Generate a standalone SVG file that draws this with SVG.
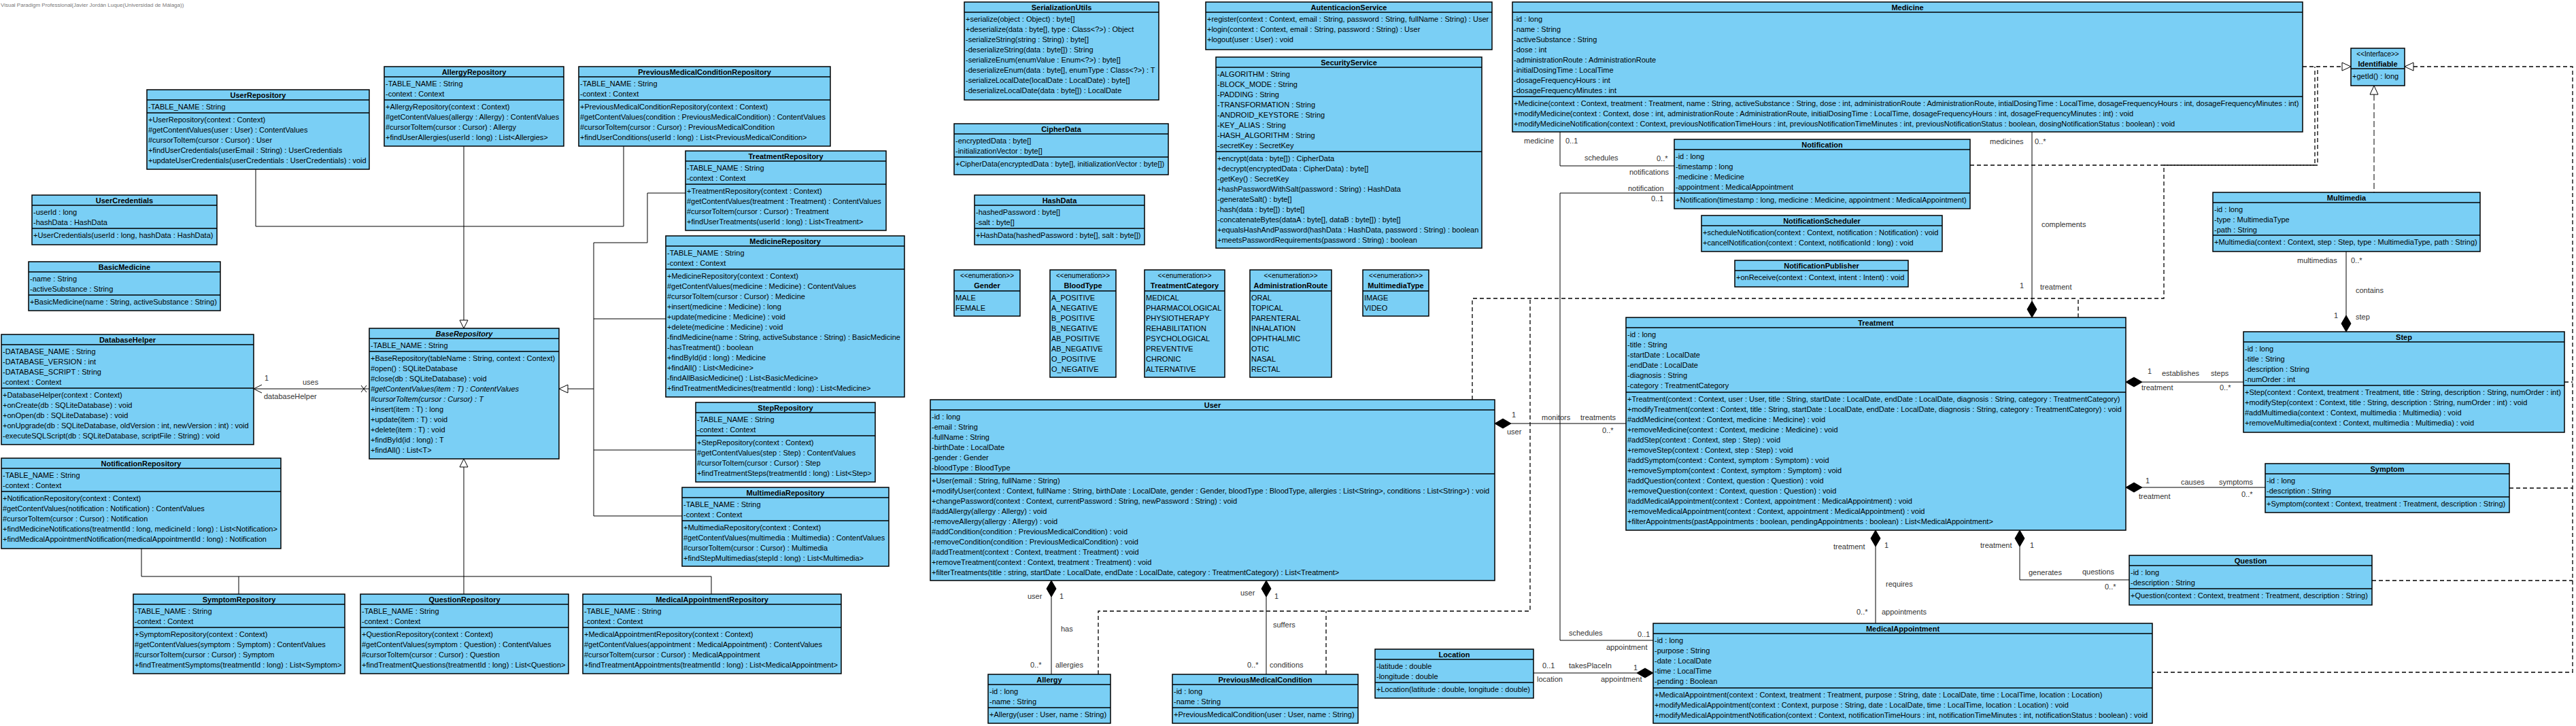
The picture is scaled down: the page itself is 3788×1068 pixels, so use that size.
<svg xmlns="http://www.w3.org/2000/svg" width="3788" height="1068" viewBox="0 0 3788 1068">
<style>
text{font-family:"Liberation Sans",Arial,sans-serif;font-size:11px;fill:#000}
.b{fill:#7acff5;stroke:#000;stroke-width:1.5}
.s{fill:none;stroke:#000;stroke-width:1.5}
.h{font-weight:bold;text-anchor:middle}
.st{text-anchor:middle;font-size:10px}
.i{font-style:italic}
.l{fill:#333}
.cn{fill:none;stroke:#000;stroke-width:1}
.dm{fill:#000;stroke:#000;stroke-width:1}
.tr{fill:#fff;stroke:#000;stroke-width:1}
.d{fill:none;stroke:#000;stroke-width:1.3;stroke-dasharray:6,4}
.d2{fill:none;stroke:#000;stroke-width:1;stroke-dasharray:9,4}
.wm{font-size:8px;fill:#777}
</style>
<rect width="3788" height="1068" fill="#fff"/>
<text class="wm" x="1" y="10">Visual Paradigm Professional(Javier Jordán Luque(Universidad de Málaga))</text>

<g id="connectors">
<!-- generalizations -->
<path class="cn" d="M376,249V333H917V215M682,215V471"/>
<polygon class="tr" points="682,483 676,471 688,471"/>
<path class="cn" d="M1008,284H952V357H873V759H1003M979,469H873M1023,662H873M873,572H835"/>
<polygon class="tr" points="822,572 835,566 835,578"/>
<polygon class="tr" points="682,675 676,687 688,687"/>
<path class="cn" d="M682,687V848M208,807V848H1046V874M351,848V874M682,848V874"/>
<!-- DatabaseHelper association -->
<path class="cn" d="M373,572H543M385,566L373,572L385,578M531,567L539,577M531,577L539,567"/>
<text class="l" x="389" y="560">1</text>
<text class="l" x="445" y="566">uses</text>
<text class="l" x="388" y="587">databaseHelper</text>
<!-- Medicine - Notification -->
<path class="cn" d="M2294,194V244H2462"/>
<text class="l" x="2241" y="211">medicine</text>
<text class="l" x="2302" y="211">0..1</text>
<text class="l" x="2330" y="236">schedules</text>
<text class="l" x="2436" y="237">0..*</text>
<text class="l" x="2396" y="257">notifications</text>
<!-- Notification - MedicalAppointment -->
<path class="cn" d="M2462,284H2294V942H2431"/>
<text class="l" x="2394" y="281">notification</text>
<text class="l" x="2428" y="296">0..1</text>
<text class="l" x="2307" y="935">schedules</text>
<text class="l" x="2408" y="937">0..1</text>
<text class="l" x="2362" y="956">appointment</text>
<!-- Medicine - Treatment -->
<path class="cn" d="M2988,194V443"/>
<polygon class="dm" points="2988,467 2981,455 2988,443 2995,455"/>
<text class="l" x="2926" y="212">medicines</text>
<text class="l" x="2992" y="212">0..*</text>
<text class="l" x="3002" y="334">complements</text>
<text class="l" x="2970" y="424">1</text>
<text class="l" x="3000" y="426">treatment</text>
<!-- Multimedia - Step -->
<path class="cn" d="M3450,370V465"/>
<polygon class="dm" points="3450,488 3443,476 3450,464 3457,476"/>
<text class="l" x="3378" y="387">multimedias</text>
<text class="l" x="3457" y="387">0..*</text>
<text class="l" x="3464" y="431">contains</text>
<text class="l" x="3432" y="468">1</text>
<text class="l" x="3464" y="470">step</text>
<!-- Treatment - Step -->
<path class="cn" d="M3150,562H3299"/>
<polygon class="dm" points="3126,562 3138,555 3150,562 3138,569"/>
<text class="l" x="3158" y="550">1</text>
<text class="l" x="3179" y="553">establishes</text>
<text class="l" x="3251" y="553">steps</text>
<text class="l" x="3149" y="574">treatment</text>
<text class="l" x="3264" y="574">0..*</text>
<!-- Treatment - Symptom -->
<path class="cn" d="M3150,717H3331"/>
<polygon class="dm" points="3126,717 3138,710 3150,717 3138,724"/>
<text class="l" x="3155" y="711">1</text>
<text class="l" x="3207" y="713">causes</text>
<text class="l" x="3263" y="713">symptoms</text>
<text class="l" x="3145" y="734">treatment</text>
<text class="l" x="3296" y="731">0..*</text>
<!-- Treatment - Question -->
<path class="cn" d="M2970,804V853H3131"/>
<polygon class="dm" points="2970,780 2977,792 2970,804 2963,792"/>
<text class="l" x="2912" y="806">treatment</text>
<text class="l" x="2985" y="806">1</text>
<text class="l" x="2983" y="846">generates</text>
<text class="l" x="3062" y="845">questions</text>
<text class="l" x="3095" y="867">0..*</text>
<!-- Treatment - MedicalAppointment -->
<path class="cn" d="M2758,804V917"/>
<polygon class="dm" points="2758,780 2765,792 2758,804 2751,792"/>
<text class="l" x="2696" y="808">treatment</text>
<text class="l" x="2771" y="806">1</text>
<text class="l" x="2773" y="863">requires</text>
<text class="l" x="2730" y="904">0..*</text>
<text class="l" x="2767" y="904">appointments</text>
<!-- Location - MedicalAppointment -->
<path class="cn" d="M2407,990H2255"/>
<polygon class="dm" points="2431,990 2419,983 2407,990 2419,997"/>
<text class="l" x="2268" y="983">0..1</text>
<text class="l" x="2307" y="983">takesPlaceIn</text>
<text class="l" x="2402" y="986">1</text>
<text class="l" x="2260" y="1003">location</text>
<text class="l" x="2354" y="1003">appointment</text>
<!-- User - Treatment -->
<path class="cn" d="M2222,623H2391"/>
<polygon class="dm" points="2198,623 2210,616 2222,623 2210,630"/>
<text class="l" x="2223" y="614">1</text>
<text class="l" x="2267" y="618">monitors</text>
<text class="l" x="2324" y="618">treatments</text>
<text class="l" x="2216" y="639">user</text>
<text class="l" x="2356" y="637">0..*</text>
<!-- User - Allergy -->
<path class="cn" d="M1546,878V992"/>
<polygon class="dm" points="1546,854 1553,866 1546,878 1539,866"/>
<text class="l" x="1511" y="881">user</text>
<text class="l" x="1558" y="881">1</text>
<text class="l" x="1560" y="929">has</text>
<text class="l" x="1515" y="982">0..*</text>
<text class="l" x="1552" y="982">allergies</text>
<!-- User - PreviousMedicalCondition -->
<path class="cn" d="M1862,878V992"/>
<polygon class="dm" points="1862,854 1869,866 1862,878 1855,866"/>
<text class="l" x="1824" y="876">user</text>
<text class="l" x="1874" y="881">1</text>
<text class="l" x="1872" y="923">suffers</text>
<text class="l" x="1834" y="982">0..*</text>
<text class="l" x="1867" y="982">conditions</text>
<!-- realizations to Identifiable -->
<path class="d" d="M3386,98H3444"/>
<path class="d" d="M2897,243H3404V98"/>
<path class="d" d="M3056,467V439H3182V243H3408V98"/>
<path class="d" d="M2165,588V439H3056"/>
<path class="d" d="M1615,992V899H2250V439"/>
<path class="d" d="M1950,992V899"/>
<polygon class="tr" points="3457,98 3444,92 3444,104"/>
<path class="d" d="M3549,98H3783V989H3165M3771,562H3783M3690,718H3783M3488,854H3783"/>
<polygon class="tr" points="3536,98 3549,92 3549,104"/>
<path class="d2" d="M3491,139V283"/>
<polygon class="tr" points="3491,126 3485,139 3497,139"/>
</g>

<g id="UserRepository">
<rect class="b" x="216" y="132" width="327" height="117"/>
<path class="s" d="M216,147H543M216,166H543"/>
<text class="h" x="379.5" y="143.5">UserRepository</text>
<text x="218" y="160.5">-TABLE_NAME : String</text>
<text x="218" y="179.5"><tspan x="218">+UserRepository(context : Context)</tspan><tspan x="218" dy="15">#getContentValues(user : User) : ContentValues</tspan><tspan x="218" dy="15">#cursorToItem(cursor : Cursor) : User</tspan><tspan x="218" dy="15">+findUserCredentials(userEmail : String) : UserCredentials</tspan><tspan x="218" dy="15">+updateUserCredentials(userCredentials : UserCredentials) : void</tspan></text>
</g>
<g id="AllergyRepository">
<rect class="b" x="565" y="98" width="264" height="117"/>
<path class="s" d="M565,113H829M565,147H829"/>
<text class="h" x="697" y="109.5">AllergyRepository</text>
<text x="567" y="126.5"><tspan x="567">-TABLE_NAME : String</tspan><tspan x="567" dy="15">-context : Context</tspan></text>
<text x="567" y="160.5"><tspan x="567">+AllergyRepository(context : Context)</tspan><tspan x="567" dy="15">#getContentValues(allergy : Allergy) : ContentValues</tspan><tspan x="567" dy="15">#cursorToItem(cursor : Cursor) : Allergy</tspan><tspan x="567" dy="15">+findUserAllergies(userId : long) : List&lt;Allergies&gt;</tspan></text>
</g>
<g id="PreviousMedicalConditionRepository">
<rect class="b" x="851" y="98" width="370" height="117"/>
<path class="s" d="M851,113H1221M851,147H1221"/>
<text class="h" x="1036" y="109.5">PreviousMedicalConditionRepository</text>
<text x="853" y="126.5"><tspan x="853">-TABLE_NAME : String</tspan><tspan x="853" dy="15">-context : Context</tspan></text>
<text x="853" y="160.5"><tspan x="853">+PreviousMedicalConditionRepository(context : Context)</tspan><tspan x="853" dy="15">#getContentValues(condition : PreviousMedicalCondition) : ContentValues</tspan><tspan x="853" dy="15">#cursorToItem(cursor : Cursor) : PreviousMedicalCondition</tspan><tspan x="853" dy="15">+findUserConditions(userId : long) : List&lt;PreviousMedicalCondition&gt;</tspan></text>
</g>
<g id="UserCredentials">
<rect class="b" x="47" y="287" width="272" height="73"/>
<path class="s" d="M47,302H319M47,336H319"/>
<text class="h" x="183" y="298.5">UserCredentials</text>
<text x="49" y="315.5"><tspan x="49">-userId : long</tspan><tspan x="49" dy="15">-hashData : HashData</tspan></text>
<text x="49" y="349.5">+UserCredentials(userId : long, hashData : HashData)</text>
</g>
<g id="BasicMedicine">
<rect class="b" x="42" y="385" width="282" height="72"/>
<path class="s" d="M42,400H324M42,434H324"/>
<text class="h" x="183" y="396.5">BasicMedicine</text>
<text x="44" y="413.5"><tspan x="44">-name : String</tspan><tspan x="44" dy="15">-activeSubstance : String</tspan></text>
<text x="44" y="447.5">+BasicMedicine(name : String, activeSubstance : String)</text>
</g>
<g id="DatabaseHelper">
<rect class="b" x="2" y="492" width="371" height="162"/>
<path class="s" d="M2,507H373M2,571H373"/>
<text class="h" x="187.5" y="503.5">DatabaseHelper</text>
<text x="4" y="520.5"><tspan x="4">-DATABASE_NAME : String</tspan><tspan x="4" dy="15">-DATABASE_VERSION : int</tspan><tspan x="4" dy="15">-DATABASE_SCRIPT : String</tspan><tspan x="4" dy="15">-context : Context</tspan></text>
<text x="4" y="584.5"><tspan x="4">+DatabaseHelper(context : Context)</tspan><tspan x="4" dy="15">+onCreate(db : SQLiteDatabase) : void</tspan><tspan x="4" dy="15">+onOpen(db : SQLiteDatabase) : void</tspan><tspan x="4" dy="15">+onUpgrade(db : SQLiteDatabase, oldVersion : int, newVersion : int) : void</tspan><tspan x="4" dy="15">-executeSQLScript(db : SQLiteDatabase, scriptFile : String) : void</tspan></text>
</g>
<g id="BaseRepository">
<rect class="b" x="543" y="483" width="279" height="192"/>
<path class="s" d="M543,498H822M543,517H822"/>
<text class="h i" x="682.5" y="494.5">BaseRepository</text>
<text x="545" y="511.5">-TABLE_NAME : String</text>
<text x="545" y="530.5"><tspan x="545">+BaseRepository(tableName : String, context : Context)</tspan><tspan x="545" dy="15">#open() : SQLiteDatabase</tspan><tspan x="545" dy="15">#close(db : SQLiteDatabase) : void</tspan><tspan x="545" dy="15" class="i">#getContentValues(item : T) : ContentValues</tspan><tspan x="545" dy="15" class="i">#cursorToItem(cursor : Cursor) : T</tspan><tspan x="545" dy="15">+insert(item : T) : long</tspan><tspan x="545" dy="15">+update(item : T) : void</tspan><tspan x="545" dy="15">+delete(item : T) : void</tspan><tspan x="545" dy="15">+findById(id : long) : T</tspan><tspan x="545" dy="15">+findAll() : List&lt;T&gt;</tspan></text>
</g>
<g id="NotificationRepository">
<rect class="b" x="2" y="674" width="411" height="133"/>
<path class="s" d="M2,689H413M2,723H413"/>
<text class="h" x="207.5" y="685.5">NotificationRepository</text>
<text x="4" y="702.5"><tspan x="4">-TABLE_NAME : String</tspan><tspan x="4" dy="15">-context : Context</tspan></text>
<text x="4" y="736.5"><tspan x="4">+NotificationRepository(context : Context)</tspan><tspan x="4" dy="15">#getContentValues(notification : Notification) : ContentValues</tspan><tspan x="4" dy="15">#cursorToItem(cursor : Cursor) : Notification</tspan><tspan x="4" dy="15">+findMedicineNotifications(treatmentId : long, medicineId : long) : List&lt;Notification&gt;</tspan><tspan x="4" dy="15">+findMedicalAppointmentNotification(medicalAppointmentId : long) : Notification</tspan></text>
</g>
<g id="SymptomRepository">
<rect class="b" x="196" y="874" width="311" height="117"/>
<path class="s" d="M196,889H507M196,923H507"/>
<text class="h" x="351.5" y="885.5">SymptomRepository</text>
<text x="198" y="902.5"><tspan x="198">-TABLE_NAME : String</tspan><tspan x="198" dy="15">-context : Context</tspan></text>
<text x="198" y="936.5"><tspan x="198">+SymptomRepository(context : Context)</tspan><tspan x="198" dy="15">#getContentValues(symptom : Symptom) : ContentValues</tspan><tspan x="198" dy="15">#cursorToItem(cursor : Cursor) : Symptom</tspan><tspan x="198" dy="15">+findTreatmentSymptoms(treatmentId : long) : List&lt;Symptom&gt;</tspan></text>
</g>
<g id="QuestionRepository">
<rect class="b" x="530" y="874" width="306" height="117"/>
<path class="s" d="M530,889H836M530,923H836"/>
<text class="h" x="683" y="885.5">QuestionRepository</text>
<text x="532" y="902.5"><tspan x="532">-TABLE_NAME : String</tspan><tspan x="532" dy="15">-context : Context</tspan></text>
<text x="532" y="936.5"><tspan x="532">+QuestionRepository(context : Context)</tspan><tspan x="532" dy="15">#getContentValues(symptom : Question) : ContentValues</tspan><tspan x="532" dy="15">#cursorToItem(cursor : Cursor) : Question</tspan><tspan x="532" dy="15">+findTreatmentQuestions(treatmentId : long) : List&lt;Question&gt;</tspan></text>
</g>
<g id="MedicalAppointmentRepository">
<rect class="b" x="857" y="874" width="380" height="117"/>
<path class="s" d="M857,889H1237M857,923H1237"/>
<text class="h" x="1047" y="885.5">MedicalAppointmentRepository</text>
<text x="859" y="902.5"><tspan x="859">-TABLE_NAME : String</tspan><tspan x="859" dy="15">-context : Context</tspan></text>
<text x="859" y="936.5"><tspan x="859">+MedicalAppointmentRepository(context : Context)</tspan><tspan x="859" dy="15">#getContentValues(appointment : MedicalAppointment) : ContentValues</tspan><tspan x="859" dy="15">#cursorToItem(cursor : Cursor) : MedicalAppointment</tspan><tspan x="859" dy="15">+findTreatmentAppointments(treatmentId : long) : List&lt;MedicalAppointment&gt;</tspan></text>
</g>
<g id="TreatmentRepository">
<rect class="b" x="1008" y="222" width="295" height="117"/>
<path class="s" d="M1008,237H1303M1008,271H1303"/>
<text class="h" x="1155.5" y="233.5">TreatmentRepository</text>
<text x="1010" y="250.5"><tspan x="1010">-TABLE_NAME : String</tspan><tspan x="1010" dy="15">-context : Context</tspan></text>
<text x="1010" y="284.5"><tspan x="1010">+TreatmentRepository(context : Context)</tspan><tspan x="1010" dy="15">#getContentValues(treatment : Treatment) : ContentValues</tspan><tspan x="1010" dy="15">#cursorToItem(cursor : Cursor) : Treatment</tspan><tspan x="1010" dy="15">+findUserTreatments(userId : long) : List&lt;Treatment&gt;</tspan></text>
</g>
<g id="MedicineRepository">
<rect class="b" x="979" y="347" width="351" height="237"/>
<path class="s" d="M979,362H1330M979,396H1330"/>
<text class="h" x="1154.5" y="358.5">MedicineRepository</text>
<text x="981" y="375.5"><tspan x="981">-TABLE_NAME : String</tspan><tspan x="981" dy="15">-context : Context</tspan></text>
<text x="981" y="409.5"><tspan x="981">+MedicineRepository(context : Context)</tspan><tspan x="981" dy="15">#getContentValues(medicine : Medicine) : ContentValues</tspan><tspan x="981" dy="15">#cursorToItem(cursor : Cursor) : Medicine</tspan><tspan x="981" dy="15">+insert(medicine : Medicine) : long</tspan><tspan x="981" dy="15">+update(medicine : Medicine) : void</tspan><tspan x="981" dy="15">+delete(medicine : Medicine) : void</tspan><tspan x="981" dy="15">-findMedicine(name : String, activeSubstance : String) : BasicMedicine</tspan><tspan x="981" dy="15">-hasTreatment() : boolean</tspan><tspan x="981" dy="15">+findById(id : long) : Medicine</tspan><tspan x="981" dy="15">+findAll() : List&lt;Medicine&gt;</tspan><tspan x="981" dy="15">-findAllBasicMedicine() : List&lt;BasicMedicine&gt;</tspan><tspan x="981" dy="15">+findTreatmentMedicines(treatmentId : long) : List&lt;Medicine&gt;</tspan></text>
</g>
<g id="StepRepository">
<rect class="b" x="1023" y="592" width="264" height="117"/>
<path class="s" d="M1023,607H1287M1023,641H1287"/>
<text class="h" x="1155" y="603.5">StepRepository</text>
<text x="1025" y="620.5"><tspan x="1025">-TABLE_NAME : String</tspan><tspan x="1025" dy="15">-context : Context</tspan></text>
<text x="1025" y="654.5"><tspan x="1025">+StepRepository(context : Context)</tspan><tspan x="1025" dy="15">#getContentValues(step : Step) : ContentValues</tspan><tspan x="1025" dy="15">#cursorToItem(cursor : Cursor) : Step</tspan><tspan x="1025" dy="15">+findTreatmentSteps(treatmentId : long) : List&lt;Step&gt;</tspan></text>
</g>
<g id="MultimediaRepository">
<rect class="b" x="1003" y="717" width="304" height="116"/>
<path class="s" d="M1003,732H1307M1003,766H1307"/>
<text class="h" x="1155" y="728.5">MultimediaRepository</text>
<text x="1005" y="745.5"><tspan x="1005">-TABLE_NAME : String</tspan><tspan x="1005" dy="15">-context : Context</tspan></text>
<text x="1005" y="779.5"><tspan x="1005">+MultimediaRepository(context : Context)</tspan><tspan x="1005" dy="15">#getContentValues(multimedia : Multimedia) : ContentValues</tspan><tspan x="1005" dy="15">#cursorToItem(cursor : Cursor) : Multimedia</tspan><tspan x="1005" dy="15">+findStepMultimedias(stepId : long) : List&lt;Multimedia&gt;</tspan></text>
</g>
<g id="SerializationUtils">
<rect class="b" x="1418" y="3" width="286" height="144"/>
<path class="s" d="M1418,18H1704"/>
<text class="h" x="1561" y="14.5">SerializationUtils</text>
<text x="1420" y="31.5"><tspan x="1420">+serialize(object : Object) : byte[]</tspan><tspan x="1420" dy="15">+deserialize(data : byte[], type : Class&lt;?&gt;) : Object</tspan><tspan x="1420" dy="15">-serializeString(string : String) : byte[]</tspan><tspan x="1420" dy="15">-deserializeString(data : byte[]) : String</tspan><tspan x="1420" dy="15">-serializeEnum(enumValue : Enum&lt;?&gt;) : byte[]</tspan><tspan x="1420" dy="15">-deserializeEnum(data : byte[], enumType : Class&lt;?&gt;) : T</tspan><tspan x="1420" dy="15">-serializeLocalDate(localDate : LocalDate) : byte[]</tspan><tspan x="1420" dy="15">-deserializeLocalDate(data : byte[]) : LocalDate</tspan></text>
</g>
<g id="CipherData">
<rect class="b" x="1403" y="182" width="315" height="75"/>
<path class="s" d="M1403,197H1718M1403,231H1718"/>
<text class="h" x="1560.5" y="193.5">CipherData</text>
<text x="1405" y="210.5"><tspan x="1405">-encryptedData : byte[]</tspan><tspan x="1405" dy="15">-initializationVector : byte[]</tspan></text>
<text x="1405" y="244.5">+CipherData(encryptedData : byte[], initializationVector : byte[])</text>
</g>
<g id="HashData">
<rect class="b" x="1433" y="287" width="250" height="73"/>
<path class="s" d="M1433,302H1683M1433,336H1683"/>
<text class="h" x="1558" y="298.5">HashData</text>
<text x="1435" y="315.5"><tspan x="1435">-hashedPassword : byte[]</tspan><tspan x="1435" dy="15">-salt : byte[]</tspan></text>
<text x="1435" y="349.5">+HashData(hashedPassword : byte[], salt : byte[])</text>
</g>
<g id="AutenticacionService">
<rect class="b" x="1773" y="3" width="421" height="70"/>
<path class="s" d="M1773,18H2194"/>
<text class="h" x="1983.5" y="14.5">AutenticacionService</text>
<text x="1775" y="31.5"><tspan x="1775">+register(context : Context, email : String, password : String, fullName : String) : User</tspan><tspan x="1775" dy="15">+login(context : Context, email : String, password : String) : User</tspan><tspan x="1775" dy="15">+logout(user : User) : void</tspan></text>
</g>
<g id="SecurityService">
<rect class="b" x="1788" y="84" width="391" height="281"/>
<path class="s" d="M1788,99H2179M1788,223H2179"/>
<text class="h" x="1983.5" y="95.5">SecurityService</text>
<text x="1790" y="112.5"><tspan x="1790">-ALGORITHM : String</tspan><tspan x="1790" dy="15">-BLOCK_MODE : String</tspan><tspan x="1790" dy="15">-PADDING : String</tspan><tspan x="1790" dy="15">-TRANSFORMATION : String</tspan><tspan x="1790" dy="15">-ANDROID_KEYSTORE : String</tspan><tspan x="1790" dy="15">-KEY_ALIAS : String</tspan><tspan x="1790" dy="15">-HASH_ALGORITHM : String</tspan><tspan x="1790" dy="15">-secretKey : SecretKey</tspan></text>
<text x="1790" y="236.5"><tspan x="1790">+encrypt(data : byte[]) : CipherData</tspan><tspan x="1790" dy="15">+decrypt(encryptedData : CipherData) : byte[]</tspan><tspan x="1790" dy="15">-getKey() : SecretKey</tspan><tspan x="1790" dy="15">+hashPasswordWithSalt(password : String) : HashData</tspan><tspan x="1790" dy="15">-generateSalt() : byte[]</tspan><tspan x="1790" dy="15">-hash(data : byte[]) : byte[]</tspan><tspan x="1790" dy="15">-concatenateBytes(dataA : byte[], dataB : byte[]) : byte[]</tspan><tspan x="1790" dy="15">+equalsHashAndPassword(hashData : HashData, password : String) : boolean</tspan><tspan x="1790" dy="15">+meetsPasswordRequirements(password : String) : boolean</tspan></text>
</g>
<g id="Gender">
<rect class="b" x="1403" y="397" width="97" height="68"/>
<path class="s" d="M1403,428H1500"/>
<text class="st" x="1451.5" y="409">&lt;&lt;enumeration&gt;&gt;</text>
<text class="h" x="1451.5" y="424">Gender</text>
<text x="1405" y="441.5"><tspan x="1405">MALE</tspan><tspan x="1405" dy="15">FEMALE</tspan></text>
</g>
<g id="BloodType">
<rect class="b" x="1544" y="397" width="97" height="158"/>
<path class="s" d="M1544,428H1641"/>
<text class="st" x="1592.5" y="409">&lt;&lt;enumeration&gt;&gt;</text>
<text class="h" x="1592.5" y="424">BloodType</text>
<text x="1546" y="441.5"><tspan x="1546">A_POSITIVE</tspan><tspan x="1546" dy="15">A_NEGATIVE</tspan><tspan x="1546" dy="15">B_POSITIVE</tspan><tspan x="1546" dy="15">B_NEGATIVE</tspan><tspan x="1546" dy="15">AB_POSITIVE</tspan><tspan x="1546" dy="15">AB_NEGATIVE</tspan><tspan x="1546" dy="15">O_POSITIVE</tspan><tspan x="1546" dy="15">O_NEGATIVE</tspan></text>
</g>
<g id="TreatmentCategory">
<rect class="b" x="1683" y="397" width="118" height="158"/>
<path class="s" d="M1683,428H1801"/>
<text class="st" x="1742" y="409">&lt;&lt;enumeration&gt;&gt;</text>
<text class="h" x="1742" y="424">TreatmentCategory</text>
<text x="1685" y="441.5"><tspan x="1685">MEDICAL</tspan><tspan x="1685" dy="15">PHARMACOLOGICAL</tspan><tspan x="1685" dy="15">PHYSIOTHERAPY</tspan><tspan x="1685" dy="15">REHABILITATION</tspan><tspan x="1685" dy="15">PSYCHOLOGICAL</tspan><tspan x="1685" dy="15">PREVENTIVE</tspan><tspan x="1685" dy="15">CHRONIC</tspan><tspan x="1685" dy="15">ALTERNATIVE</tspan></text>
</g>
<g id="AdministrationRoute">
<rect class="b" x="1838" y="397" width="120" height="158"/>
<path class="s" d="M1838,428H1958"/>
<text class="st" x="1898" y="409">&lt;&lt;enumeration&gt;&gt;</text>
<text class="h" x="1898" y="424">AdministrationRoute</text>
<text x="1840" y="441.5"><tspan x="1840">ORAL</tspan><tspan x="1840" dy="15">TOPICAL</tspan><tspan x="1840" dy="15">PARENTERAL</tspan><tspan x="1840" dy="15">INHALATION</tspan><tspan x="1840" dy="15">OPHTHALMIC</tspan><tspan x="1840" dy="15">OTIC</tspan><tspan x="1840" dy="15">NASAL</tspan><tspan x="1840" dy="15">RECTAL</tspan></text>
</g>
<g id="MultimediaType">
<rect class="b" x="2004" y="397" width="97" height="68"/>
<path class="s" d="M2004,428H2101"/>
<text class="st" x="2052.5" y="409">&lt;&lt;enumeration&gt;&gt;</text>
<text class="h" x="2052.5" y="424">MultimediaType</text>
<text x="2006" y="441.5"><tspan x="2006">IMAGE</tspan><tspan x="2006" dy="15">VIDEO</tspan></text>
</g>
<g id="User">
<rect class="b" x="1368" y="588" width="830" height="266"/>
<path class="s" d="M1368,603H2198M1368,697H2198"/>
<text class="h" x="1783" y="599.5">User</text>
<text x="1370" y="616.5"><tspan x="1370">-id : long</tspan><tspan x="1370" dy="15">-email : String</tspan><tspan x="1370" dy="15">-fullName : String</tspan><tspan x="1370" dy="15">-birthDate : LocalDate</tspan><tspan x="1370" dy="15">-gender : Gender</tspan><tspan x="1370" dy="15">-bloodType : BloodType</tspan></text>
<text x="1370" y="710.5"><tspan x="1370">+User(email : String, fullName : String)</tspan><tspan x="1370" dy="15">+modifyUser(context : Context, fullName : String, birthDate : LocalDate, gender : Gender, bloodType : BloodType, allergies : List&lt;String&gt;, conditions : List&lt;String&gt;) : void</tspan><tspan x="1370" dy="15">+changePassword(context : Context, currentPassword : String, newPassword : String) : void</tspan><tspan x="1370" dy="15">#addAllergy(allergy : Allergy) : void</tspan><tspan x="1370" dy="15">-removeAllergy(allergy : Allergy) : void</tspan><tspan x="1370" dy="15">#addCondition(condition : PreviousMedicalCondition) : void</tspan><tspan x="1370" dy="15">-removeCondition(condition : PreviousMedicalCondition) : void</tspan><tspan x="1370" dy="15">#addTreatment(context : Context, treatment : Treatment) : void</tspan><tspan x="1370" dy="15">+removeTreatment(context : Context, treatment : Treatment) : void</tspan><tspan x="1370" dy="15">+filterTreatments(title : string, startDate : LocalDate, endDate : LocalDate, category : TreatmentCategory) : List&lt;Treatment&gt;</tspan></text>
</g>
<g id="Allergy">
<rect class="b" x="1453" y="992" width="180" height="72"/>
<path class="s" d="M1453,1007H1633M1453,1041H1633"/>
<text class="h" x="1543" y="1003.5">Allergy</text>
<text x="1455" y="1020.5"><tspan x="1455">-id : long</tspan><tspan x="1455" dy="15">-name : String</tspan></text>
<text x="1455" y="1054.5">+Allergy(user : User, name : String)</text>
</g>
<g id="PreviousMedicalCondition">
<rect class="b" x="1724" y="992" width="273" height="72"/>
<path class="s" d="M1724,1007H1997M1724,1041H1997"/>
<text class="h" x="1860.5" y="1003.5">PreviousMedicalCondition</text>
<text x="1726" y="1020.5"><tspan x="1726">-id : long</tspan><tspan x="1726" dy="15">-name : String</tspan></text>
<text x="1726" y="1054.5">+PreviousMedicalCondition(user : User, name : String)</text>
</g>
<g id="Location">
<rect class="b" x="2022" y="955" width="233" height="72"/>
<path class="s" d="M2022,970H2255M2022,1004H2255"/>
<text class="h" x="2138.5" y="966.5">Location</text>
<text x="2024" y="983.5"><tspan x="2024">-latitude : double</tspan><tspan x="2024" dy="15">-longitude : double</tspan></text>
<text x="2024" y="1017.5">+Location(latitude : double, longitude : double)</text>
</g>
<g id="Medicine">
<rect class="b" x="2224" y="3" width="1162" height="191"/>
<path class="s" d="M2224,18H3386M2224,142H3386"/>
<text class="h" x="2805" y="14.5">Medicine</text>
<text x="2226" y="31.5"><tspan x="2226">-id : long</tspan><tspan x="2226" dy="15">-name : String</tspan><tspan x="2226" dy="15">-activeSubstance : String</tspan><tspan x="2226" dy="15">-dose : int</tspan><tspan x="2226" dy="15">-administrationRoute : AdministrationRoute</tspan><tspan x="2226" dy="15">-initialDosingTime : LocalTime</tspan><tspan x="2226" dy="15">-dosageFrequencyHours : int</tspan><tspan x="2226" dy="15">-dosageFrequencyMinutes : int</tspan></text>
<text x="2226" y="155.5"><tspan x="2226">+Medicine(context : Context, treatment : Treatment, name : String, activeSubstance : String, dose : int, administrationRoute : AdministrationRoute, intialDosingTime : LocalTime, dosageFrequencyHours : int, dosageFrequencyMinutes : int)</tspan><tspan x="2226" dy="15">+modifyMedicine(context : Context, dose : int, administrationRoute : AdministrationRoute, initialDosingTime : LocalTime, dosageFrequencyHours : int, dosageFrequencyMinutes : int) : void</tspan><tspan x="2226" dy="15">+modifyMedicineNotification(context : Context, previousNotificationTimeHours : int, previousNotificationTimeMinutes : int, previousNotificationStatus : boolean, dosingNotificationStatus : boolean) : void</tspan></text>
</g>
<g id="Notification">
<rect class="b" x="2462" y="205" width="435" height="102"/>
<path class="s" d="M2462,220H2897M2462,284H2897"/>
<text class="h" x="2679.5" y="216.5">Notification</text>
<text x="2464" y="233.5"><tspan x="2464">-id : long</tspan><tspan x="2464" dy="15">-timestamp : long</tspan><tspan x="2464" dy="15">-medicine : Medicine</tspan><tspan x="2464" dy="15">-appointment : MedicalAppointment</tspan></text>
<text x="2464" y="297.5">+Notification(timestamp : long, medicine : Medicine, appointment : MedicalAppointment)</text>
</g>
<g id="NotificationScheduler">
<rect class="b" x="2502" y="317" width="354" height="53"/>
<path class="s" d="M2502,332H2856"/>
<text class="h" x="2679" y="328.5">NotificationScheduler</text>
<text x="2504" y="345.5"><tspan x="2504">+scheduleNotification(context : Context, notification : Notification) : void</tspan><tspan x="2504" dy="15">+cancelNotification(context : Context, notificationId : long) : void</tspan></text>
</g>
<g id="NotificationPublisher">
<rect class="b" x="2551" y="383" width="255" height="39"/>
<path class="s" d="M2551,398H2806"/>
<text class="h" x="2678.5" y="394.5">NotificationPublisher</text>
<text x="2553" y="411.5">+onReceive(context : Context, intent : Intent) : void</text>
</g>
<g id="Treatment">
<rect class="b" x="2391" y="467" width="735" height="313"/>
<path class="s" d="M2391,482H3126M2391,577H3126"/>
<text class="h" x="2758.5" y="478.5">Treatment</text>
<text x="2393" y="495.5"><tspan x="2393">-id : long</tspan><tspan x="2393" dy="15">-title : String</tspan><tspan x="2393" dy="15">-startDate : LocalDate</tspan><tspan x="2393" dy="15">-endDate : LocalDate</tspan><tspan x="2393" dy="15">-diagnosis : String</tspan><tspan x="2393" dy="15">-category : TreatmentCategory</tspan></text>
<text x="2393" y="590.5"><tspan x="2393">+Treatment(context : Context, user : User, title : String, startDate : LocalDate, endDate : LocalDate, diagnosis : String, category : TreatmentCategory)</tspan><tspan x="2393" dy="15">+modifyTreatment(context : Context, title : String, startDate : LocalDate, endDate : LocalDate, diagnosis : String, category : TreatmentCategory) : void</tspan><tspan x="2393" dy="15">#addMedicine(context : Context, medicine : Medicine) : void</tspan><tspan x="2393" dy="15">+removeMedicine(context : Context, medicine : Medicine) : void</tspan><tspan x="2393" dy="15">#addStep(context : Context, step : Step) : void</tspan><tspan x="2393" dy="15">+removeStep(context : Context, step : Step) : void</tspan><tspan x="2393" dy="15">#addSymptom(context : Context, symptom : Symptom) : void</tspan><tspan x="2393" dy="15">+removeSymptom(context : Context, symptom : Symptom) : void</tspan><tspan x="2393" dy="15">#addQuestion(context : Context, question : Question) : void</tspan><tspan x="2393" dy="15">+removeQuestion(context : Context, question : Question) : void</tspan><tspan x="2393" dy="15">#addMedicalAppointment(context : Context, appointment : MedicalAppointment) : void</tspan><tspan x="2393" dy="15">+removeMedicalAppointment(context : Context, appointment : MedicalAppointment) : void</tspan><tspan x="2393" dy="15">+filterAppointments(pastAppointments : boolean, pendingAppointments : boolean) : List&lt;MedicalAppointment&gt;</tspan></text>
</g>
<g id="MedicalAppointment">
<rect class="b" x="2431" y="917" width="734" height="147"/>
<path class="s" d="M2431,932H3165M2431,1012H3165"/>
<text class="h" x="2798" y="928.5">MedicalAppointment</text>
<text x="2433" y="945.5"><tspan x="2433">-id : long</tspan><tspan x="2433" dy="15">-purpose : String</tspan><tspan x="2433" dy="15">-date : LocalDate</tspan><tspan x="2433" dy="15">-time : LocalTime</tspan><tspan x="2433" dy="15">-pending : Boolean</tspan></text>
<text x="2433" y="1025.5"><tspan x="2433">+MedicalAppointment(context : Context, treatment : Treatment, purpose : String, date : LocalDate, time : LocalTime, location : Location)</tspan><tspan x="2433" dy="15">+modifyMedicalAppointment(context : Context, purpose : String, date : LocalDate, time : LocalTime, location : Location) : void</tspan><tspan x="2433" dy="15">+modifyMedicalAppointmentNotification(context : Context, notificationTimeHours : int, notificationTimeMinutes : int, notificationStatus : boolean) : void</tspan></text>
</g>
<g id="Identifiable">
<rect class="b" x="3457" y="71" width="79" height="55"/>
<path class="s" d="M3457,101H3536"/>
<text class="st" x="3496.5" y="83">&lt;&lt;Interface&gt;&gt;</text>
<text class="h" x="3496.5" y="98">Identifiable</text>
<text x="3459" y="116">+getId() : long</text>
</g>
<g id="Multimedia">
<rect class="b" x="3254" y="283" width="393" height="87"/>
<path class="s" d="M3254,298H3647M3254,346H3647"/>
<text class="h" x="3450.5" y="294.5">Multimedia</text>
<text x="3256" y="311.5"><tspan x="3256">-id : long</tspan><tspan x="3256" dy="15">-type : MultimediaType</tspan><tspan x="3256" dy="15">-path : String</tspan></text>
<text x="3256" y="359.5">+Multimedia(context : Context, step : Step, type : MultimediaType, path : String)</text>
</g>
<g id="Step">
<rect class="b" x="3299" y="488" width="472" height="148"/>
<path class="s" d="M3299,503H3771M3299,567H3771"/>
<text class="h" x="3535" y="499.5">Step</text>
<text x="3301" y="516.5"><tspan x="3301">-id : long</tspan><tspan x="3301" dy="15">-title : String</tspan><tspan x="3301" dy="15">-description : String</tspan><tspan x="3301" dy="15">-numOrder : int</tspan></text>
<text x="3301" y="580.5"><tspan x="3301">+Step(context : Context, treatment : Treatment, title : String, description : String, numOrder : int)</tspan><tspan x="3301" dy="15">+modifyStep(context : Context, title : String, description : String, numOrder : int) : void</tspan><tspan x="3301" dy="15">#addMultimedia(context : Context, multimedia : Multimedia) : void</tspan><tspan x="3301" dy="15">+removeMultimedia(context : Context, multimedia : Multimedia) : void</tspan></text>
</g>
<g id="Symptom">
<rect class="b" x="3331" y="682" width="359" height="72"/>
<path class="s" d="M3331,697H3690M3331,731H3690"/>
<text class="h" x="3510.5" y="693.5">Symptom</text>
<text x="3333" y="710.5"><tspan x="3333">-id : long</tspan><tspan x="3333" dy="15">-description : String</tspan></text>
<text x="3333" y="744.5">+Symptom(context : Context, treatment : Treatment, description : String)</text>
</g>
<g id="Question">
<rect class="b" x="3131" y="817" width="357" height="73"/>
<path class="s" d="M3131,832H3488M3131,866H3488"/>
<text class="h" x="3309.5" y="828.5">Question</text>
<text x="3133" y="845.5"><tspan x="3133">-id : long</tspan><tspan x="3133" dy="15">-description : String</tspan></text>
<text x="3133" y="879.5">+Question(context : Context, treatment : Treatment, description : String)</text>
</g>
</svg>
